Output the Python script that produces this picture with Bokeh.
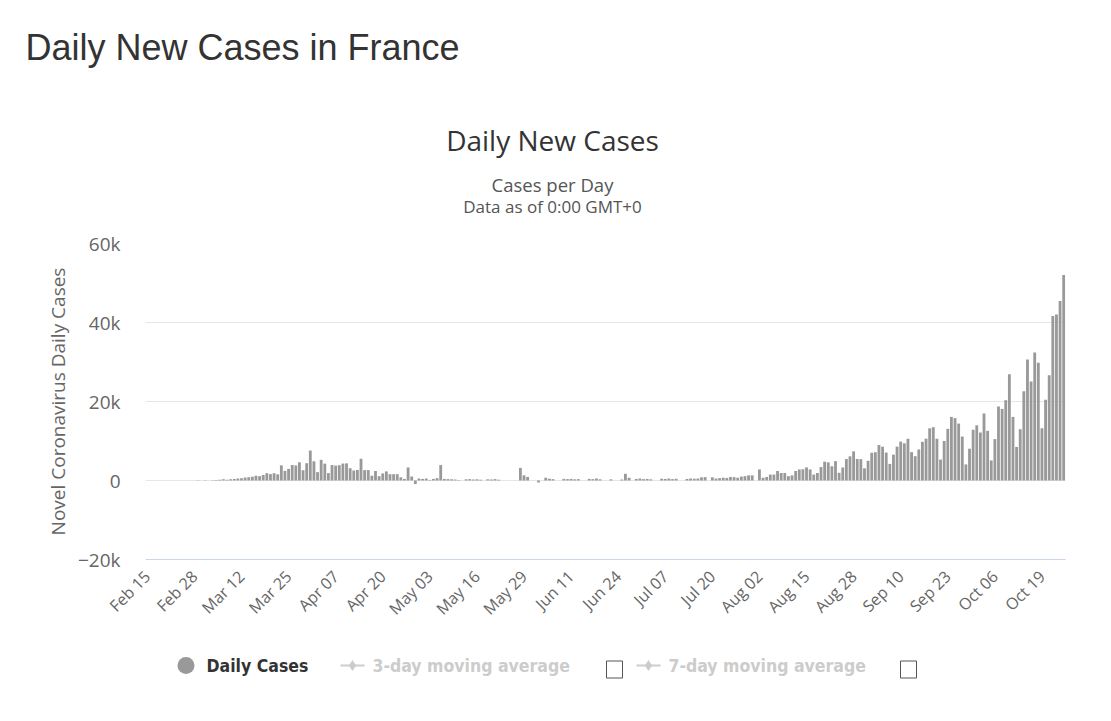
import math
import pandas as pd
from bokeh.plotting import figure
from bokeh.layouts import column
from bokeh.models import Range1d, FixedTicker, ColumnDataSource
from bokeh.embed import file_html
from bokeh.resources import INLINE
from bokeh.core.properties import value

# ---------------- data ----------------
feb_cases = [0, 0, 0, 0, 0, 0, 0, 0, 0, 0, 2, 4, 20, 19, 43]
mar_cases = [30, 61, 21, 73, 138, 190, 336, 177, 286, 372, 497, 595, 785, 838, 924,
             1210, 1097, 1404, 1861, 1617, 1847, 1559, 3838, 2446, 2931, 3922, 3809,
             4611, 2599, 4376, 7578]
apr_cases = [4861, 2116, 5233, 4267, 1873, 3912, 3777, 3881, 4286, 4342, 3114, 2523,
             2673, 5497, 2633, 2641, 1200, 2400, 1100, 1800, 2300, 1600, 1600, 1600,
             800, 400, 3300, 1000, -900, 500]
may_cases = [400, 500, 150, 400, 600, 3900, 400, 350, 300, 250, 100, 0, 300, 350, 250,
             300, 200, 0, 300, 250, 350, 200, 0, 0, 0, 0, 0, 3200, 1300, 900, 0]
jun_cases = [0, -500, 0, 700, 450, 350, 0, 0, 400, 350, 400, 300, 350, 0, 0, 400, 350,
             500, 300, 0, 0, 300, 0, 0, 250, 1700, 700, 0, 400, 500]
jul_cases = [350, 400, 300, 0, 0, 450, 400, 500, 350, 450, 0, 0, 400, 500, 450, 500,
             800, 850, 0, 800, 500, 600, 700, 650, 900, 850, 700, 1000, 1100, 1300, 1300]
aug_cases = [0, 2800, 700, 900, 1500, 1500, 2400, 1900, 1900, 1100, 1300, 2400, 2800,
             2846, 3310, 2800, 1500, 1900, 3400, 4771, 4586, 3602, 4897, 1955, 3304,
             5429, 6111, 7379, 5453, 5413, 3082]
sep_cases = [4982, 7017, 7157, 8975, 8550, 7071, 4203, 6544, 8577, 9843, 9406, 10561,
             7183, 6158, 7852, 9784, 10593, 13215, 13498, 10569, 5298, 10008, 13072,
             16096, 15797, 14412, 11123, 4070, 8051, 12845]
oct_cases = [13970, 12148, 16972, 12565, 5084, 10489, 18746, 18129, 20339, 26896, 16101,
             8505, 12993, 22591, 30621, 25086, 32427, 29837, 13243, 20468, 26676, 41622,
             42032, 45422, 52010]

daily_cases = (feb_cases + mar_cases + apr_cases + may_cases + jun_cases +
               jul_cases + aug_cases + sep_cases + oct_cases)
dates = [d.strftime("%b %d") for d in pd.date_range("2020-02-15", "2020-10-25")]

x_tick_labels = ["Feb 15", "Feb 28", "Mar 12", "Mar 25", "Apr 07", "Apr 20", "May 03",
                 "May 16", "May 29", "Jun 11", "Jun 24", "Jul 07", "Jul 20", "Aug 02",
                 "Aug 15", "Aug 28", "Sep 10", "Sep 23", "Oct 06", "Oct 19"]
y_ticks = [-20000, 0, 20000, 40000, 60000]
y_tick_labels = ["\u221220k", "0", "20k", "40k", "60k"]

page_title = "Daily New Cases in France"
chart_title = "Daily New Cases"
subtitle_lines = ["Cases per Day", "Data as of 0:00 GMT+0"]
y_axis_title = "Novel Coronavirus Daily Cases"
legend_items = ["Daily Cases", "3-day moving average", "7-day moving average"]

# ---------------- layout ----------------
W = 1100
H_HDR, H_MAIN, H_LEG = 222, 418, 60
FL, FR, FT, FB = 145, 1065, 243, 559      # frame edges in page pixels
FONT = "Open Sans"
LFONT = "DejaVu Sans Condensed"


def no_align(f):
    try:
        f.frame_align = False
    except Exception:
        pass


def pixel_fig(h):
    f = figure(width=W, height=h, x_range=Range1d(0, W), y_range=Range1d(h, 0),
               output_backend="svg", toolbar_location=None, min_border=0,
               x_axis_location=None, y_axis_location=None)
    f.grid.visible = False
    f.outline_line_color = None
    no_align(f)
    return f


def txt(f, x, y, text, size, color, font=FONT, style="normal", align="left"):
    f.text(x=[x], y=[y], text=[text], text_font=value(font),
           text_font_size=f"{size}px", text_color=color, text_font_style=style,
           text_align=align, text_baseline="middle")


# header
hdr = pixel_fig(H_HDR)
txt(hdr, 25, 47, page_title, 36, "#333333", font="Liberation Sans")
txt(hdr, 552, 139, chart_title, 28, "#333333", align="center")
txt(hdr, 552, 184, subtitle_lines[0], 18.5, "#555555", align="center")
txt(hdr, 552, 206, subtitle_lines[1], 17, "#555555", align="center")

# main chart
X0, X1 = -0.5, len(dates) - 0.5
p = figure(width=W, height=H_MAIN, x_range=Range1d(X0, X1),
           y_range=Range1d(y_ticks[0], y_ticks[-1]),
           output_backend="svg", toolbar_location=None,
           min_border_left=FL, min_border_right=W - FR,
           min_border_top=FT - H_HDR, min_border_bottom=H_HDR + H_MAIN - FB)
no_align(p)

src = ColumnDataSource(dict(x=list(range(len(dates))), cases=daily_cases, date=dates))
p.vbar(x="x", top="cases", bottom=0, width=0.78, source=src,
       fill_color="#999999", line_color=None)

tick_pos = [dates.index(l) for l in x_tick_labels]
p.xaxis.ticker = FixedTicker(ticks=tick_pos)
p.xaxis.major_label_overrides = {t: l for t, l in zip(tick_pos, x_tick_labels)}
p.xaxis.major_label_orientation = math.pi / 4
p.xaxis.major_label_text_font = FONT
p.xaxis.major_label_text_font_size = "16px"
p.xaxis.major_label_text_color = "#666666"
p.xaxis.axis_line_color = "#ccd6eb"
p.xaxis.major_tick_line_color = None
p.xaxis.minor_tick_line_color = None
p.xaxis.major_label_standoff = 8

p.yaxis.ticker = FixedTicker(ticks=y_ticks)
p.yaxis.major_label_overrides = {t: l for t, l in zip(y_ticks, y_tick_labels)}
p.yaxis.major_label_text_font = FONT
p.yaxis.major_label_text_font_size = "19px"
p.yaxis.major_label_text_color = "#666666"
p.yaxis.axis_line_color = None
p.yaxis.major_tick_line_color = None
p.yaxis.minor_tick_line_color = None
p.yaxis.major_label_standoff = 19
p.yaxis.axis_label = y_axis_title
p.yaxis.axis_label_text_font = FONT
p.yaxis.axis_label_text_font_size = "19px"
p.yaxis.axis_label_text_font_style = "normal"
p.yaxis.axis_label_text_color = "#666666"
p.yaxis.axis_label_standoff = 4

p.xgrid.grid_line_color = None
p.ygrid.grid_line_color = "#e6e6e6"
p.outline_line_color = None

# legend strip (positions in page pixels, y measured from the strip's top)
leg = pixel_fig(H_LEG)
LY = 665 - (H_HDR + H_MAIN)
leg.scatter(x=[185.5], y=[LY], size=17, marker="circle", fill_color="#999999",
            line_color=None)
txt(leg, 206, LY, legend_items[0], 17.5, "#333333", font=LFONT, style="bold")
for lx, tx, cx, label in [(340, 372, 614, legend_items[1]),
                          (636, 668, 908, legend_items[2])]:
    leg.segment(x0=[lx], y0=[LY], x1=[lx + 24], y1=[LY], line_color="#cccccc",
                line_width=2)
    leg.scatter(x=[lx + 12], y=[LY], size=11, marker="diamond", fill_color="#cccccc",
                line_color=None)
    txt(leg, tx, LY, label, 17.5, "#cccccc", font=LFONT, style="bold")
    leg.rect(x=[cx], y=[LY + 4], width=16, height=17, fill_color="white",
             line_color="#555555", line_width=1)

layout = column(hdr, p, leg, spacing=0)
open("out.html", "w").write(file_html(layout, INLINE))
